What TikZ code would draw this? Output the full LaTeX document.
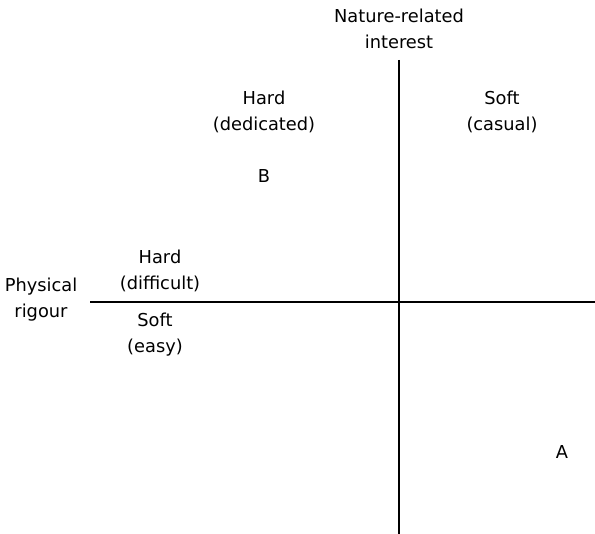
\documentclass[tikz,border=0pt]{standalone}
\usepackage{fontspec}
\setmainfont{DejaVu Sans}
\begin{document}
\begin{tikzpicture}[x=1pt,y=-1pt,
  lbl/.style={align=center,font=\fontsize{17.8}{26}\selectfont,inner sep=0pt},
  axis/.style={line width=1.2pt,black}]
\useasboundingbox (0,0) rectangle (595,534);
\coordinate (vtop) at (399,60);
\coordinate (vbot) at (399,534);
\coordinate (hl) at (90,302);
\coordinate (hr) at (595,302);
\draw[axis] (vtop) -- (vbot);
\draw[axis] (hl) -- (hr);
\node[lbl] (nat) at (399,29) {Nature-related\\interest};
\node[lbl] (hd) at (264,112) {Hard\\(dedicated)};
\node[lbl] (sc) at (502,112) {Soft\\(casual)};
\node[lbl] (b) at (264,176) {B};
\node[lbl] (hdf) at (160,271) {Hard\\(difficult)};
\node[lbl] (pr) at (41,300) {Physical\\rigour};
\node[lbl] (se) at (155,335) {Soft\\(easy)};
\node[lbl] (a) at (562,452) {A};
\end{tikzpicture}
\end{document}
